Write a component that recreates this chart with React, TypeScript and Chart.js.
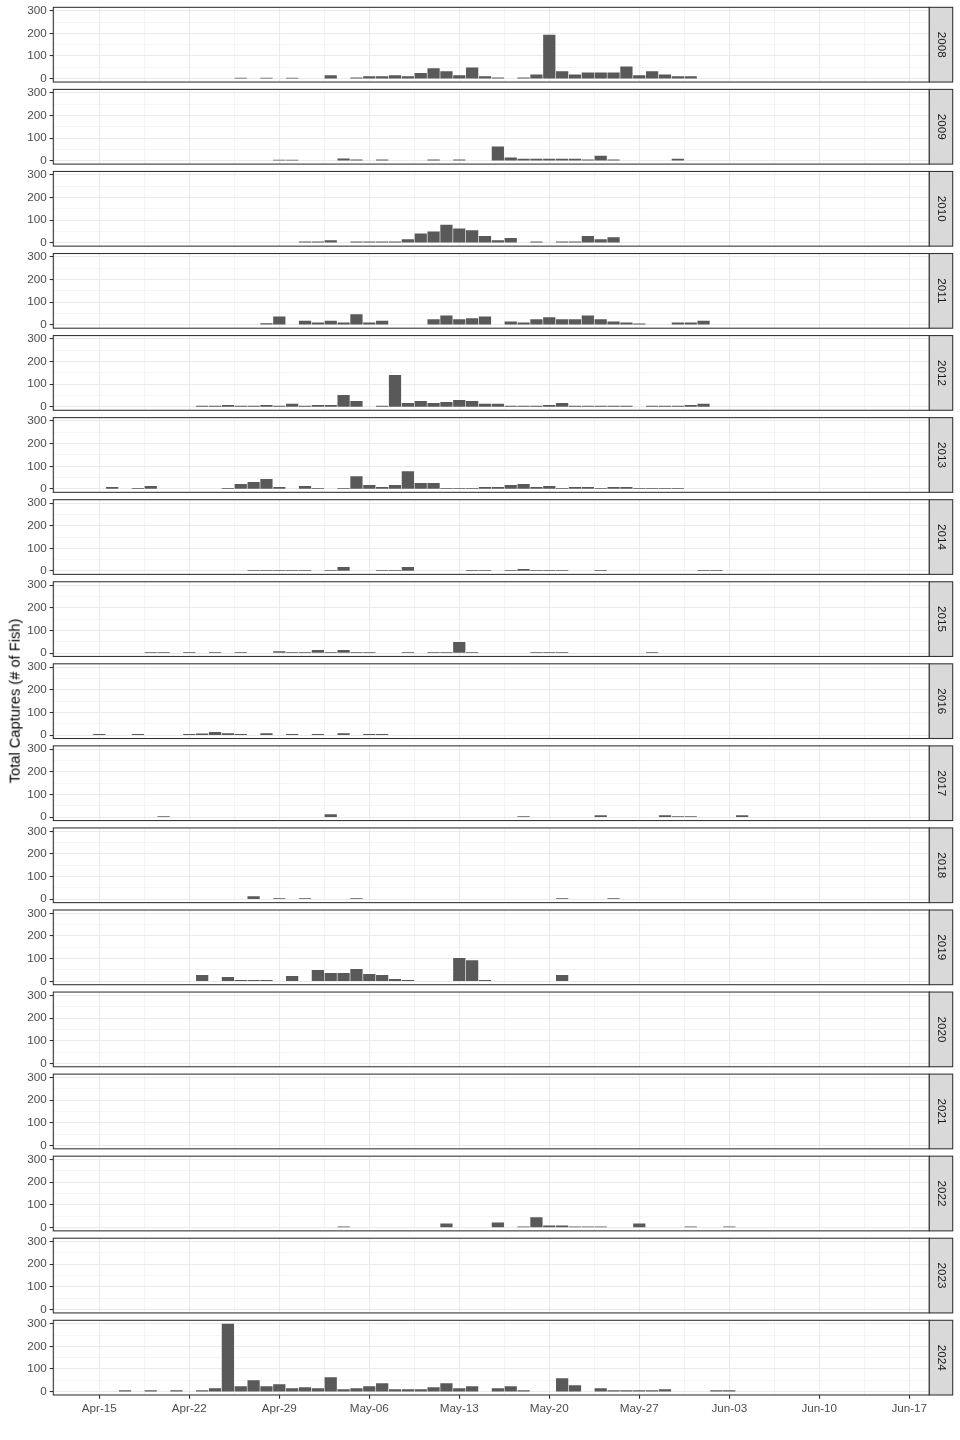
import React, { useEffect, useRef } from "react";
import { Chart, registerables } from "chart.js";

Chart.register(...registerables);

// ---------- data: [day offset from Apr-15, total captures] ----------
const c2008: [number, number][] = [[11,3],[13,3],[15,3],[18,13],[20,4],[21,9],[22,9],[23,13],[24,9],[25,23],[26,44],[27,31],[28,13],[29,48],[30,9],[31,4],[33,4],[34,17],[35,192],[36,31],[37,17],[38,26],[39,26],[40,26],[41,52],[42,13],[43,31],[44,17],[45,9],[46,9]];
const c2009: [number, number][] = [[14,3],[15,3],[19,8],[20,4],[22,4],[26,4],[28,4],[31,61],[32,13],[33,7],[34,7],[35,7],[36,7],[37,7],[38,4],[39,20],[40,4],[45,7]];
const c2010: [number, number][] = [[16,4],[17,4],[18,10],[20,4],[21,4],[22,4],[23,4],[24,14],[25,39],[26,48],[27,78],[28,62],[29,54],[30,28],[31,10],[32,19],[34,4],[36,4],[37,4],[38,28],[39,14],[40,23]];
const c2011: [number, number][] = [[13,6],[14,35],[16,17],[17,9],[18,17],[19,9],[20,45],[21,9],[22,17],[26,23],[27,40],[28,23],[29,28],[30,35],[32,13],[33,9],[34,23],[35,32],[36,23],[37,23],[38,40],[39,23],[40,13],[41,9],[42,4],[45,9],[46,9],[47,17]];
const c2012: [number, number][] = [[8,3],[9,3],[10,7],[11,3],[12,3],[13,7],[14,3],[15,12],[16,3],[17,7],[18,7],[19,51],[20,25],[22,3],[23,139],[24,16],[25,25],[26,16],[27,20],[28,29],[29,25],[30,12],[31,12],[32,3],[33,3],[34,3],[35,7],[36,16],[37,3],[38,3],[39,3],[40,3],[41,3],[43,3],[44,3],[45,3],[46,7],[47,12]];
const c2013: [number, number][] = [[1,7],[3,3],[4,12],[10,3],[11,20],[12,29],[13,42],[14,7],[16,12],[17,3],[19,3],[20,55],[21,16],[22,7],[23,16],[24,77],[25,25],[26,25],[27,3],[28,3],[29,3],[30,7],[31,7],[32,16],[33,20],[34,7],[35,12],[36,3],[37,7],[38,7],[39,3],[40,7],[41,7],[42,3],[43,3],[44,3],[45,3]];
const c2014: [number, number][] = [[12,3],[13,3],[14,3],[15,3],[16,3],[18,3],[19,16],[22,3],[23,3],[24,16],[29,3],[30,3],[32,3],[33,7],[34,3],[35,3],[36,3],[39,3],[47,3],[48,3]];
const c2015: [number, number][] = [[4,3],[5,3],[7,3],[9,3],[11,3],[14,7],[15,3],[16,3],[17,12],[18,3],[19,12],[20,3],[21,3],[24,3],[26,3],[27,3],[28,47],[29,3],[34,3],[35,3],[36,3],[43,3]];
const c2016: [number, number][] = [[0,3],[3,3],[7,3],[8,6],[9,12],[10,7],[11,3],[13,7],[15,3],[17,3],[19,7],[21,3],[22,3]];
const c2017: [number, number][] = [[5,3],[18,12],[33,3],[39,7],[44,7],[45,3],[46,3],[50,7]];
const c2018: [number, number][] = [[12,12],[14,3],[16,3],[20,3],[36,3],[40,3]];
const c2019: [number, number][] = [[8,26],[10,17],[11,4],[12,4],[13,4],[15,22],[17,48],[18,35],[19,35],[20,53],[21,31],[22,26],[23,9],[24,4],[28,101],[29,92],[30,4],[36,26]];
const c2020: [number, number][] = [];
const c2021: [number, number][] = [];
const c2022: [number, number][] = [[19,3],[27,16],[31,21],[33,3],[34,44],[35,7],[36,7],[37,3],[38,3],[39,3],[42,16],[46,3],[49,3]];
const c2023: [number, number][] = [];
const c2024: [number, number][] = [[2,4],[4,4],[6,4],[8,4],[9,13],[10,298],[11,22],[12,49],[13,22],[14,31],[15,13],[16,18],[17,13],[18,62],[19,9],[20,13],[21,22],[22,35],[23,9],[24,9],[25,9],[26,18],[27,35],[28,13],[29,22],[31,13],[32,22],[33,4],[36,58],[37,27],[39,13],[40,4],[41,4],[42,4],[43,4],[44,9],[48,4],[49,4]];

const YEARS = ["2008","2009","2010","2011","2012","2013","2014","2015","2016","2017","2018","2019","2020","2021","2022","2023","2024"];
const SERIES = [c2008,c2009,c2010,c2011,c2012,c2013,c2014,c2015,c2016,c2017,c2018,c2019,c2020,c2021,c2022,c2023,c2024];

const X_TICK_DAYS = [0, 7, 14, 21, 28, 35, 42, 49, 56, 63];
const X_TICK_LABELS = ["Apr-15","Apr-22","Apr-29","May-06","May-13","May-20","May-27","Jun-03","Jun-10","Jun-17"];
const Y_TICKS = [0, 100, 200, 300];
const Y_TITLE = "Total Captures (# of Fish)";

// ---------- layout / style ----------
const FONT = "'Liberation Sans', Arial, Helvetica, sans-serif";
const W = 960;
const PANEL_LEFT = 53.3;
const PANEL_RIGHT = 929.3;
const STRIP_W = 23.4;
const PANEL_TOP0 = 7.33;
const PANEL_H = 74.7;
const PITCH = 82.06;
const X_MIN = -3.58;
const X_MAX = 64.56;
const Y_MIN = -15;
const Y_MAX = 315;
const X_AXIS_H = 40;
const SLACK = 16;
const BAR_PX = 0.9 * (PANEL_RIGHT - PANEL_LEFT) / (X_MAX - X_MIN);

const xGrid: number[] = [];
X_TICK_DAYS.forEach((d) => { xGrid.push(d - 3.5); xGrid.push(d); });
const xGridSorted = xGrid.filter((v) => v >= X_MIN && v <= X_MAX).sort((a, b) => a - b);
const yGrid: number[] = [];
Y_TICKS.forEach((v) => { yGrid.push(v); if (v < 300) yGrid.push(v + 50); });
yGrid.sort((a, b) => a - b);

function Panel({ index }: { index: number }) {
  const ref = useRef<HTMLCanvasElement | null>(null);
  const isLast = index === YEARS.length - 1;
  const panelTop = PANEL_TOP0 + index * PITCH;
  const canvasTop = Math.floor(panelTop) - SLACK;
  const wantTop = panelTop - canvasTop;
  const wantBottom = wantTop + PANEL_H;
  const xH = isLast ? X_AXIS_H : 0;
  const canvasH = Math.ceil(wantBottom + xH + SLACK);

  useEffect(() => {
    if (!ref.current) return;
    const year = YEARS[index];
    const framePlugin = {
      id: "frame" + index,
      afterDraw(chart: any) {
        const { ctx, chartArea } = chart;
        const { left, right, top, bottom } = chartArea;
        ctx.save();
        ctx.lineWidth = 1.07;
        ctx.strokeStyle = "#333333";
        ctx.strokeRect(left, top, right - left, bottom - top);
        ctx.fillStyle = "#D9D9D9";
        ctx.fillRect(right, top, STRIP_W, bottom - top);
        ctx.strokeRect(right, top, STRIP_W, bottom - top);
        ctx.translate(right + STRIP_W / 2, (top + bottom) / 2);
        ctx.rotate(Math.PI / 2);
        ctx.fillStyle = "#1A1A1A";
        ctx.font = `11.7px ${FONT}`;
        ctx.textAlign = "center";
        ctx.textBaseline = "middle";
        ctx.fillText(year, 0, 0);
        ctx.restore();
      },
    };
    let pad = { left: 0, right: W - PANEL_RIGHT, top: wantTop, bottom: canvasH - wantBottom - xH };
    const chart = new Chart(ref.current, {
      type: "bar",
      data: {
        datasets: [
          {
            data: SERIES[index].map(([d, v]) => ({ x: d, y: v })),
            backgroundColor: "#595959",
            borderWidth: 0,
            barThickness: BAR_PX,
          },
        ],
      },
      options: {
        responsive: false,
        maintainAspectRatio: false,
        animation: false,
        events: [],
        layout: { autoPadding: false, padding: pad },
        plugins: { legend: { display: false }, tooltip: { enabled: false }, title: { display: false } },
        scales: {
          x: {
            type: "linear",
            offset: false,
            min: X_MIN,
            max: X_MAX,
            afterBuildTicks: (s: any) => { s.ticks = xGridSorted.map((v) => ({ value: v })); },
            afterFit: (s: any) => { s.height = xH; },
            border: { display: false },
            grid: {
              offset: false,
              color: "#EBEBEB",
              lineWidth: (c: any) => (c.tick && X_TICK_DAYS.includes(c.tick.value) ? 1.07 : 0.53),
              drawTicks: isLast,
              tickLength: 3.67,
              tickWidth: 1.07,
              tickColor: (c: any) => (c.tick && X_TICK_DAYS.includes(c.tick.value) ? "#333333" : "rgba(0,0,0,0)"),
            },
            ticks: {
              display: isLast,
              autoSkip: false,
              maxRotation: 0,
              minRotation: 0,
              padding: 2.93,
              color: "#4D4D4D",
              font: { family: FONT, size: 11.7 },
              callback: (v: any) => {
                const i = X_TICK_DAYS.indexOf(Number(v));
                return i >= 0 ? X_TICK_LABELS[i] : "";
              },
            },
          },
          y: {
            type: "linear",
            min: Y_MIN,
            max: Y_MAX,
            afterBuildTicks: (s: any) => { s.ticks = yGrid.map((v) => ({ value: v })); },
            afterFit: (s: any) => { s.width = PANEL_LEFT; },
            border: { display: false },
            grid: {
              color: "#EBEBEB",
              lineWidth: (c: any) => (c.tick && Y_TICKS.includes(c.tick.value) ? 1.07 : 0.53),
              drawTicks: true,
              tickLength: 3.67,
              tickWidth: 1.07,
              tickColor: (c: any) => (c.tick && Y_TICKS.includes(c.tick.value) ? "#333333" : "rgba(0,0,0,0)"),
            },
            ticks: {
              autoSkip: false,
              padding: 2.93,
              color: "#4D4D4D",
              font: { family: FONT, size: 11.7 },
              callback: (v: any) => (Y_TICKS.includes(Number(v)) ? String(v) : ""),
            },
          },
        },
      } as any,
      plugins: [framePlugin],
    });
    // correct the layout so the panel lands exactly where the facet should be
    for (let k = 0; k < 4; k++) {
      const a = chart.chartArea;
      const dt = a.top - wantTop;
      const db = wantBottom - a.bottom;
      const dl = a.left - PANEL_LEFT;
      const dr = PANEL_RIGHT - a.right;
      if (Math.abs(dt) < 0.01 && Math.abs(db) < 0.01 && Math.abs(dl) < 0.01 && Math.abs(dr) < 0.01) break;
      pad = { left: pad.left - dl, right: pad.right - dr, top: pad.top - dt, bottom: pad.bottom - db };
      (chart.options as any).layout.padding = pad;
      chart.update();
    }
    return () => chart.destroy();
  }, [index]);

  return (
    <canvas
      ref={ref}
      width={W}
      height={canvasH}
      style={{ position: "absolute", left: 0, top: canvasTop, width: W, height: canvasH, display: "block" }}
    />
  );
}

export default function App() {
  const midY = (PANEL_TOP0 + (PANEL_TOP0 + (YEARS.length - 1) * PITCH + PANEL_H)) / 2;
  return (
    <div style={{ position: "absolute", left: 0, top: 0, width: W, height: 1440, background: "#FFFFFF", overflow: "hidden" }}>
      {YEARS.map((y, i) => (
        <Panel key={y} index={i} />
      ))}
      <div
        style={{
          position: "absolute",
          left: 15.4,
          top: midY,
          transform: "translate(-50%, -50%) rotate(-90deg)",
          whiteSpace: "nowrap",
          fontFamily: FONT,
          fontSize: 14.67,
          lineHeight: 1,
          color: "#000000",
        }}
      >
        {Y_TITLE}
      </div>
    </div>
  );
}
